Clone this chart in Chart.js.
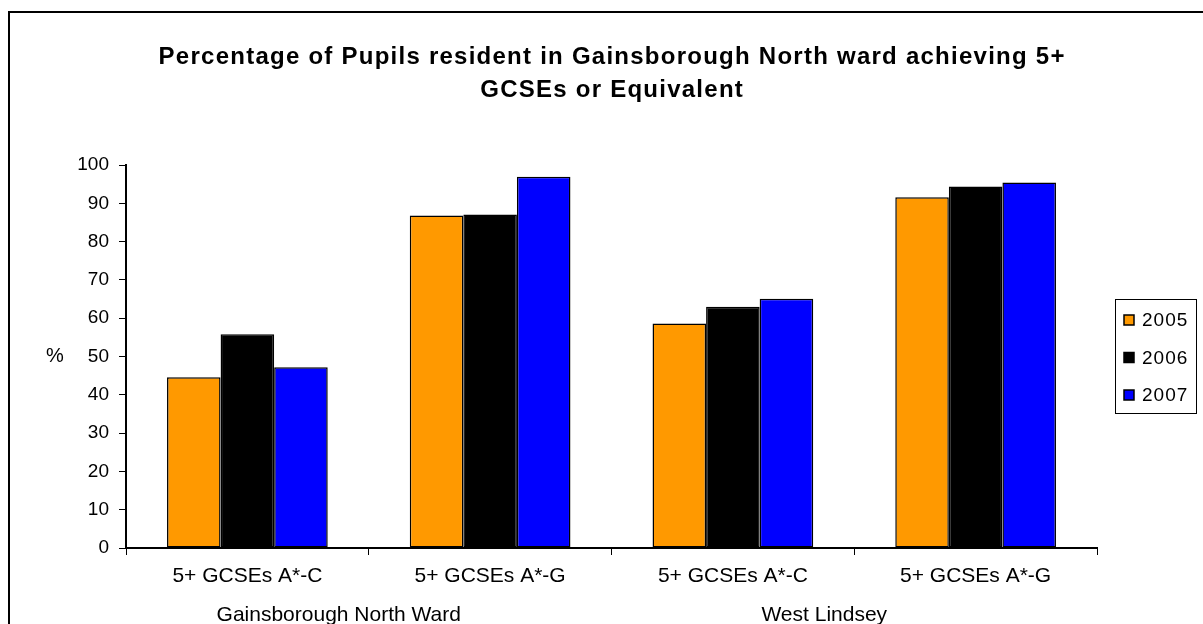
<!DOCTYPE html>
<html>
<head>
<meta charset="utf-8">
<script src="https://cdn.jsdelivr.net/npm/chart.js@4.4.1/dist/chart.umd.min.js"></script>
<style>
    html, body { margin: 0; padding: 0; background: #fff; }
    #gcseChart { display: block; }
</style>
</head>
<body>
<canvas id="gcseChart" width="1203" height="624"></canvas>
<script>
// GCSE results chart
const chartTitle = ['Percentage of Pupils resident in Gainsborough North ward achieving 5+', 'GCSEs or Equivalent'];
const categories = ['5+ GCSEs A*-C', '5+ GCSEs A*-G', '5+ GCSEs A*-C', '5+ GCSEs A*-G'];
const groupLabels = ['Gainsborough North Ward', 'West Lindsey'];
const seriesNames = ['2005', '2006', '2007'];
const values2005 = [44.6, 86.8, 58.6, 91.6];
const values2006 = [55.8, 87.1, 63.0, 94.4];
const values2007 = [47.2, 96.9, 65.1, 95.4];
const seriesColors = ['#FF9900', '#000000', '#0000FF'];
const yAxisTitle = '%';

const FONT = "'Liberation Sans', Arial, sans-serif";

// frame, title, group labels and boxed legend
const decorPlugin = {
    id: 'decor',
    afterDraw(chart) {
        const ctx = chart.ctx;
        const area = chart.chartArea;
        const x = chart.scales.x;
        ctx.save();

        // outer frame (left + top edges visible)
        ctx.strokeStyle = '#000';
        ctx.lineWidth = 2;
        ctx.beginPath();
        ctx.moveTo(9, chart.height);
        ctx.lineTo(9, 12);
        ctx.lineTo(chart.width, 12);
        ctx.stroke();

        // title, stretched to the reference width
        ctx.fillStyle = '#000';
        ctx.font = 'bold 24px ' + FONT;
        ctx.textAlign = 'center';
        ctx.textBaseline = 'alphabetic';
        const natural = ctx.measureText(chartTitle[0]).width;
        const spacing = Math.max(0, (906 - natural) / (chartTitle[0].length - 1));
        if ('letterSpacing' in ctx) ctx.letterSpacing = spacing.toFixed(2) + 'px';
        const cx = (area.left + area.right) / 2;
        ctx.fillText(chartTitle[0], cx + spacing / 2, 64);
        ctx.fillText(chartTitle[1], cx + spacing / 2, 97);
        if ('letterSpacing' in ctx) ctx.letterSpacing = '0px';

        // y axis title
        ctx.font = '20px ' + FONT;
        ctx.textBaseline = 'middle';
        ctx.fillText(yAxisTitle, 55, chart.scales.y.getPixelForValue(50));

        // outer category level
        ctx.font = '21px ' + FONT;
        ctx.textBaseline = 'alphabetic';
        groupLabels.forEach((label, i) => {
            const mid = (x.getPixelForValue(i * 2) + x.getPixelForValue(i * 2 + 1)) / 2;
            ctx.fillText(label, mid - 30, 621);
        });

        // legend box
        const lx = area.right + 18;
        const ly = 299;
        ctx.lineWidth = 1;
        ctx.strokeRect(lx + 0.5, ly + 0.5, 81, 114);
        ctx.font = '19px ' + FONT;
        ctx.textAlign = 'left';
        ctx.textBaseline = 'middle';
        if ('letterSpacing' in ctx) ctx.letterSpacing = '1px';
        chart.data.datasets.forEach((ds, i) => {
            const rowY = ly + 21 + i * 37.5;
            ctx.fillStyle = ds.backgroundColor;
            ctx.fillRect(lx + 9, rowY - 5, 10, 10);
            ctx.strokeStyle = '#000';
            ctx.lineWidth = 1.5;
            ctx.strokeRect(lx + 9, rowY - 5, 10, 10);
            ctx.fillStyle = '#000';
            ctx.fillText(ds.label, lx + 27, rowY + 1);
        });
        ctx.restore();
    }
};

const seriesValues = [values2005, values2006, values2007];

new Chart(document.getElementById('gcseChart').getContext('2d'), {
    type: 'bar',
    data: {
        labels: categories,
        datasets: seriesNames.map((name, i) => ({
            label: name,
            data: seriesValues[i],
            backgroundColor: seriesColors[i],
            borderColor: '#000',
            borderWidth: 1.5,
            borderSkipped: false,
            categoryPercentage: 0.662,
            barPercentage: 1.0
        }))
    },
    options: {
        responsive: false,
        animation: false,
        layout: {
            padding: { top: 165, right: 106, bottom: 0, left: 0 }
        },
        plugins: {
            legend: { display: false },
            title: { display: false },
            tooltip: { enabled: false }
        },
        scales: {
            x: {
                grid: {
                    display: true,
                    offset: true,
                    drawOnChartArea: false,
                    drawTicks: true,
                    tickLength: 7,
                    color: '#000',
                    lineWidth: 1
                },
                border: { display: true, color: '#000', width: 2 },
                ticks: {
                    color: '#000',
                    font: { family: FONT, size: 21 },
                    padding: 9,
                    maxRotation: 0,
                    autoSkip: false
                },
                afterFit(scale) { scale.height = 76; }
            },
            y: {
                min: 0,
                max: 100,
                grid: {
                    display: true,
                    drawOnChartArea: false,
                    drawTicks: true,
                    tickLength: 7,
                    color: '#000',
                    lineWidth: 1
                },
                border: { display: true, color: '#000', width: 2 },
                ticks: {
                    stepSize: 10,
                    color: '#000',
                    font: { family: FONT, size: 19 },
                    padding: 10
                },
                afterFit(scale) { scale.width = 126; }
            }
        }
    },
    plugins: [decorPlugin]
});
</script>
</body>
</html>
